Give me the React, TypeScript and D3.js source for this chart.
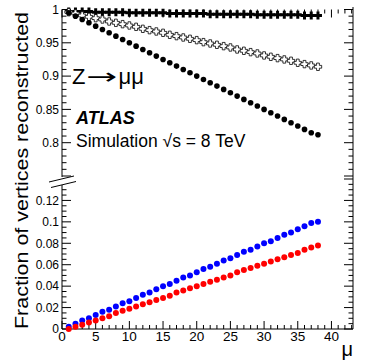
import * as d3 from "d3";

// mu bins (1..38)
const mu = d3.range(1, 39);

// upper panel: fraction of vertices reconstructed
const effFilledCross = [
  0.997, 0.997, 0.997, 0.997, 0.996, 0.996, 0.996, 0.996, 0.996, 0.995,
  0.995, 0.995, 0.995, 0.995, 0.995, 0.994, 0.994, 0.994, 0.994, 0.994,
  0.994, 0.993, 0.993, 0.993, 0.993, 0.993, 0.993, 0.993, 0.992, 0.992,
  0.992, 0.992, 0.992, 0.992, 0.992, 0.991, 0.991, 0.991,
];
const effOpenCross = [
  0.996, 0.994, 0.991, 0.989, 0.987, 0.985, 0.982, 0.98, 0.978, 0.976,
  0.974, 0.971, 0.969, 0.967, 0.965, 0.962, 0.96, 0.958, 0.956, 0.954,
  0.951, 0.949, 0.947, 0.945, 0.943, 0.94, 0.938, 0.936, 0.934, 0.931,
  0.929, 0.927, 0.925, 0.923, 0.92, 0.918, 0.916, 0.914,
];
const effCircle = [
  0.995, 0.99, 0.985, 0.98, 0.975, 0.97, 0.965, 0.96, 0.955, 0.95,
  0.945, 0.94, 0.935, 0.93, 0.925, 0.92, 0.915, 0.91, 0.905, 0.9,
  0.895, 0.89, 0.885, 0.88, 0.875, 0.87, 0.865, 0.86, 0.855, 0.85,
  0.845, 0.84, 0.835, 0.83, 0.825, 0.82, 0.815, 0.812,
];

// lower panel
const fracBlue = [
  0.002, 0.005, 0.008, 0.01, 0.013, 0.016, 0.018, 0.021, 0.024, 0.026,
  0.029, 0.032, 0.034, 0.037, 0.04, 0.042, 0.045, 0.048, 0.05, 0.053,
  0.056, 0.058, 0.061, 0.064, 0.066, 0.069, 0.072, 0.074, 0.077, 0.08,
  0.082, 0.085, 0.088, 0.09, 0.093, 0.096, 0.099, 0.1,
];
const fracRed = [
  0.0, 0.002, 0.004, 0.006, 0.008, 0.01, 0.012, 0.015, 0.017, 0.019,
  0.021, 0.023, 0.025, 0.027, 0.029, 0.031, 0.034, 0.036, 0.038, 0.04,
  0.042, 0.044, 0.046, 0.048, 0.05, 0.053, 0.055, 0.057, 0.059, 0.061,
  0.063, 0.065, 0.067, 0.069, 0.071, 0.074, 0.076, 0.078,
];

const xTickLabels = [0, 5, 10, 15, 20, 25, 30, 35, 40];
const topTickLabels = ["0.8", "0.85", "0.9", "0.95", "1"];
const lowTickLabels = ["0", "0.02", "0.04", "0.06", "0.08", "0.1", "0.12"];

const W = 374;
const H = 361;
const left = 62;
const right = 353;
const font = "'Liberation Sans', Arial, Helvetica, sans-serif";

const x = d3.scaleLinear().domain([0, 43.2]).range([left, right]);
const yTop = d3.scaleLinear().domain([0.75, 1]).range([176, 9.5]);
const yLow = d3.scaleLinear().domain([0, 0.14]).range([329, 179]);

const crossPath = (a: number, h: number) =>
  `M${-h},${-a}H${h}V${-h}H${a}V${h}H${h}V${a}H${-h}V${h}H${-a}V${-h}H${-h}Z`;

export default function App() {
  const topMinor = d3.range(75, 101).map((v) => v / 100);
  const lowMinor = d3.range(0, 29).map((v) => v * 0.005);
  const xMinor = d3.range(0, 44);

  return (
    <svg
      width={W}
      height={H}
      style={{ position: "absolute", left: 0, top: 0, background: "#fff" }}
      fontFamily={font}
    >
      {/* axis lines */}
      <g stroke="#000" strokeWidth={1} fill="none">
        <line x1={left} x2={left} y1={9.5} y2={177} />
        <line x1={left} x2={left} y1={185} y2={329} />
        <line x1={right} x2={right} y1={7} y2={329} />
        <line x1={left} x2={right} y1={329} y2={329} />
        {/* break marks */}
        <line x1={49} y1={182} x2={74} y2={176} />
        <line x1={51} y1={187.5} x2={76} y2={181.5} />
      </g>

      {/* ticks */}
      <g stroke="#000" strokeWidth={1}>
        {topMinor.map((v, i) => {
          const len = i % 5 === 0 ? 9 : 4.5;
          const y = yTop(v);
          return (
            <g key={"t" + i}>
              <line x1={left} x2={left + len} y1={y} y2={y} />
              <line x1={right} x2={right - len} y1={y} y2={y} />
            </g>
          );
        })}
        {lowMinor.map((v, i) => {
          const len = i % 4 === 0 ? 9 : 4.5;
          const y = yLow(v);
          return (
            <g key={"l" + i}>
              {y >= 185 && <line x1={left} x2={left + len} y1={y} y2={y} />}
              <line x1={right} x2={right - len} y1={y} y2={y} />
            </g>
          );
        })}
        {xMinor.map((v) => {
          const len = v % 5 === 0 ? 8 : 4;
          const xx = x(v);
          return (
            <g key={"x" + v}>
              <line x1={xx} x2={xx} y1={329} y2={329 - len} />
              <line x1={xx} x2={xx} y1={9.5} y2={9.5 + len} />
            </g>
          );
        })}
      </g>

      {/* tick labels */}
      <g fontSize={12} textAnchor="end" fill="#000">
        {topTickLabels.map((t) => (
          <text key={t} x={59} y={yTop(+t) + 4.3}>
            {t}
          </text>
        ))}
        {lowTickLabels.map((t) => (
          <text key={t} x={59} y={yLow(+t) + 4.3}>
            {t}
          </text>
        ))}
      </g>
      <g fontSize={13.5} textAnchor="middle" fill="#000">
        {xTickLabels.map((t) => (
          <text key={t} x={x(t)} y={341}>
            {t}
          </text>
        ))}
      </g>

      {/* axis titles */}
      <text
        transform="translate(28,329) rotate(-90)"
        fontSize={18.5}
        textLength={317}
        lengthAdjust="spacingAndGlyphs"
      >
        Fraction of vertices reconstructed
      </text>
      <text x={353} y={356} fontSize={20} textAnchor="end">
        μ
      </text>

      {/* labels */}
      <text x={72} y={84} fontSize={22}>
        Z
        <tspan
          fontFamily="'DejaVu Sans', sans-serif"
          dx={1}
          textLength={31}
          lengthAdjust="spacingAndGlyphs"
        >
          →
        </tspan>
        <tspan dx={1}>μμ</tspan>
      </text>
      <text x={76} y={124} fontSize={18} fontWeight="bold" fontStyle="italic">
        ATLAS
      </text>
      <text x={76} y={147} fontSize={17.5}>
        Simulation √s = 8 TeV
      </text>

      {/* series */}
      <g fill="#000">
        {mu.map((m, i) => (
          <path
            key={"fc" + i}
            d={crossPath(4, 1.5)}
            transform={`translate(${x(m)},${yTop(effFilledCross[i])})`}
          />
        ))}
      </g>
      <g fill="#fff" stroke="#000" strokeWidth={0.8}>
        {mu.map((m, i) => (
          <path
            key={"oc" + i}
            d={crossPath(3.7, 1.4)}
            transform={`translate(${x(m)},${yTop(effOpenCross[i])})`}
          />
        ))}
      </g>
      <g fill="#000">
        {mu.map((m, i) => (
          <circle key={"c" + i} cx={x(m)} cy={yTop(effCircle[i])} r={2.8} />
        ))}
      </g>
      <g fill="#0000ff">
        {mu.map((m, i) => (
          <circle key={"b" + i} cx={x(m)} cy={yLow(fracBlue[i])} r={3} />
        ))}
      </g>
      <g fill="#ff0000">
        {mu.map((m, i) => (
          <circle key={"r" + i} cx={x(m)} cy={yLow(fracRed[i])} r={3} />
        ))}
      </g>
    </svg>
  );
}
